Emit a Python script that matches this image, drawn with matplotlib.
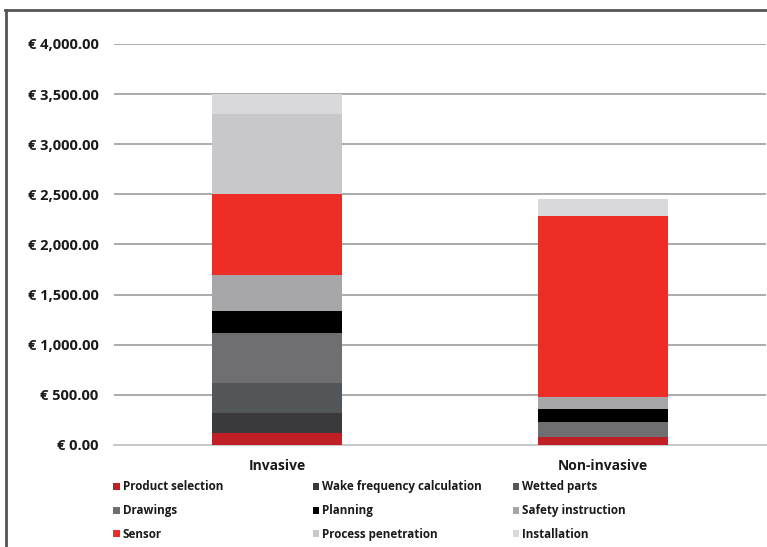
import matplotlib.pyplot as plt
from matplotlib.lines import Line2D
from matplotlib.ticker import FuncFormatter

# data
categories = ['Invasive', 'Non-invasive']
series = ['Product selection', 'Wake frequency calculation', 'Wetted parts',
          'Drawings', 'Planning', 'Safety instruction',
          'Sensor', 'Process penetration', 'Installation']
invasive = [120, 200, 300, 500, 220, 360, 800, 800, 200]
non_invasive = [80, 0, 0, 150, 130, 120, 1800, 0, 170]
colors = ['#c01f26', '#3a3a3c', '#54575a', '#6f6e71', '#000000',
          '#a7a7aa', '#ee2d27', '#c8c8ca', '#d9d9db']
y_ticks = [0, 500, 1000, 1500, 2000, 2500, 3000, 3500, 4000]

plt.rcParams['font.family'] = ['Open Sans', 'DejaVu Sans']

fig = plt.figure(figsize=(7.67, 5.47), dpi=100)
ax = fig.add_axes([0.1486, 0.1865, 0.8501, 0.7331])

bottoms = [0, 0]
handles = []
for name, a, b, c in zip(series, invasive, non_invasive, colors):
    bars = ax.bar([0, 1], [a, b], bottom=bottoms, width=0.4, color=c,
                  label=name, zorder=3)
    handles.append(bars)
    bottoms = [bottoms[0] + a, bottoms[1] + b]

ax.set_xlim(-0.5, 1.5)
ax.set_ylim(0, 4000)
ax.set_yticks(y_ticks)
ax.yaxis.set_major_formatter(FuncFormatter(lambda v, p: '€ {:,.2f}'.format(v)))
ax.set_xticks([0, 1])
ax.set_xticklabels(categories)
for lab in ax.get_yticklabels():
    lab.set_fontweight('bold')
    lab.set_fontsize(10.5)
    lab.set_color('#1a1a1a')
for lab in ax.get_xticklabels():
    lab.set_fontweight('bold')
    lab.set_fontsize(10)
    lab.set_color('#1a1a1a')
ax.tick_params(axis='y', length=0, pad=11)
ax.tick_params(axis='x', length=0, pad=10)
ax.grid(axis='y', color='#ababab', lw=1.4, zorder=0)
for s in ['top', 'right', 'left']:
    ax.spines[s].set_visible(False)
ax.spines['bottom'].set_color('#c8c8c8')
ax.spines['bottom'].set_linewidth(1.4)

# legend, one column at a time so the positions can be set
col_x = [0.134, 0.394, 0.655]
for i, x in enumerate(col_x):
    hs = [handles[i], handles[i + 3], handles[i + 6]]
    labs = [series[i], series[i + 3], series[i + 6]]
    leg = fig.legend(hs, labs, loc='upper left', bbox_to_anchor=(x, 0.141),
                     frameon=False, handlelength=0.55, handleheight=0.55,
                     handletextpad=0.25, labelspacing=0.93,
                     prop={'weight': 'bold', 'size': 8.4})
    for t in leg.get_texts():
        t.set_color('#1a1a1a')

# frame round the picture
fig.add_artist(Line2D([5 / 767, 1], [1 - 9.5 / 547] * 2, color='#555555', lw=2))
fig.add_artist(Line2D([5.5 / 767] * 2, [0, 1 - 9.5 / 547], color='#555555', lw=2))

fig.savefig('out.png', dpi=100)
